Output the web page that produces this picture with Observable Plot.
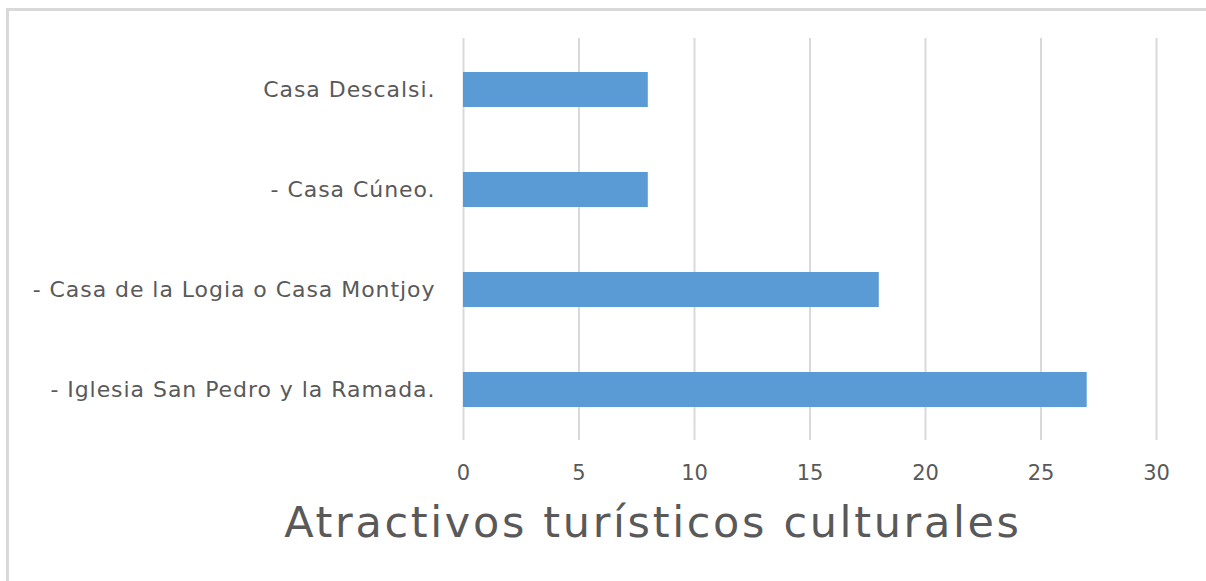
<!DOCTYPE html>
<html>
<head>
<meta charset="utf-8">
<script src="https://cdn.jsdelivr.net/npm/d3@7"></script>
<script src="https://cdn.jsdelivr.net/npm/@observablehq/plot@0.6"></script>
<style>
  html, body { margin: 0; padding: 0; background: #fff; width: 1206px; height: 581px; overflow: hidden; }
  #frame { position: absolute; left: 6px; top: 8px; width: 1197px; height: 600px;
           border-left: 3px solid #d9d9d9; border-top: 3px solid #d9d9d9; border-right: 1px solid #eeeeee; }
  #chart { position: absolute; left: 0; top: 0; }
  #chart g[aria-label="y-axis tick label"] text { letter-spacing: 0.95px; }
  #title { position: absolute; left: 0; width: 1306px; top: 497px; text-align: center;
           font-family: "DejaVu Sans", sans-serif; font-size: 43px; letter-spacing: 2.65px;
           color: #595959; white-space: nowrap; }
</style>
</head>
<body>
<div id="frame"></div>
<div id="chart"></div>
<div id="title">Atractivos turísticos culturales</div>
<script>
const categories = [
  "Casa Descalsi.",
  "- Casa Cúneo.",
  "- Casa de la Logia o Casa Montjoy",
  "- Iglesia San Pedro y la Ramada."
];
const values = [8, 8, 18, 27];
const xTicks = [0, 5, 10, 15, 20, 25, 30];
const titleText = "Atractivos turísticos culturales";

const data = categories.map((c, i) => ({category: c, value: values[i]}));

const chart = Plot.plot({
  width: 1206,
  height: 490,
  marginLeft: 463,
  marginRight: 50,
  marginTop: 38,
  marginBottom: 50,
  style: {fontFamily: "'DejaVu Sans', sans-serif", color: "#595959", background: "transparent"},
  x: {domain: [0, 30], ticks: xTicks, label: null},
  y: {domain: categories, paddingInner: 0.65, paddingOuter: 0.325, label: null},
  marks: [
    Plot.ruleX(xTicks, {stroke: "#d9d9d9", strokeWidth: 2, strokeOpacity: 1}),
    Plot.barX(data, {x: "value", y: "category", fill: "#5b9bd5"}),
    Plot.axisX({ticks: xTicks, tickSize: 0, tickPadding: 25, fontSize: 21, fill: "#595959", label: null}),
    Plot.axisY({tickSize: 0, tickPadding: 28, fontSize: 22, fill: "#595959", label: null})
  ]
});
document.getElementById("chart").appendChild(chart);
document.getElementById("title").textContent = titleText;
</script>
</body>
</html>
